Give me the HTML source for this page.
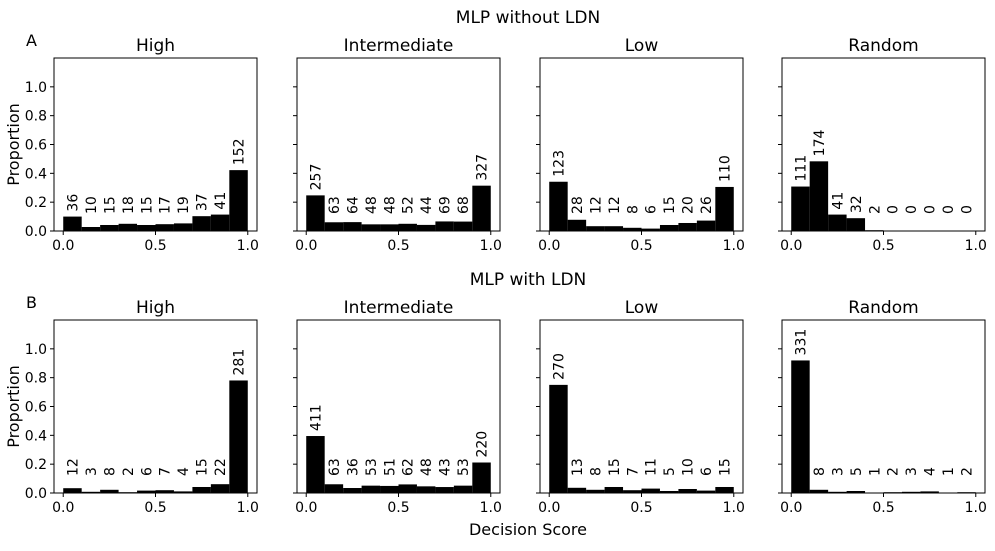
<!DOCTYPE html>
<html><head><meta charset="utf-8"><style>
body{margin:0;background:#fff;}
svg{font-family:"DejaVu Sans","Liberation Sans",sans-serif;}
</style></head><body>
<svg id="c" width="995" height="546"></svg>
<script>
const panelTitles=["High","Intermediate","Low","Random"];
const rowTitles=["MLP without LDN","MLP with LDN"];
const rowLetters=["A","B"];
const countsA=[
[36,10,15,18,15,17,19,37,41,152],
[257,63,64,48,48,52,44,69,68,327],
[123,28,12,12,8,6,15,20,26,110],
[111,174,41,32,2,0,0,0,0,0]];
const countsB=[
[12,3,8,2,6,7,4,15,22,281],
[411,63,36,53,51,62,48,43,53,220],
[270,13,8,15,7,11,5,10,6,15],
[331,8,3,5,1,2,3,4,1,2]];
const yTicks=[0,0.2,0.4,0.6,0.8,1.0];
const xTicks=[0,0.5,1.0];
const NS="http://www.w3.org/2000/svg";
const svg=document.getElementById('c');
function mk(t,a,p){const e=document.createElementNS(NS,t);for(const k in a)e.setAttribute(k,a[k]);(p||svg).appendChild(e);return e;}
const colX=[54,297,540,782], pw=203;
const rowY=[58,320], ph=173;
[countsA,countsB].forEach((data,r)=>{
  const st=mk('text',{x:528,y:rowY[r]-35,'font-size':17,'text-anchor':'middle'});
  
  
  st.textContent=rowTitles[r];
  const lt=mk('text',{x:26,y:rowY[r]-12,'font-size':16});
  
  
  lt.textContent=rowLetters[r];
  data.forEach((counts,c)=>{
    const x0=colX[c], y0=rowY[r];
    const sx=v=>x0+(v+0.05)/1.1*pw;
    const sy=v=>y0+ph-(v/1.2)*ph;
    const g=mk('g',{});
    
    
    const t=mk('text',{x:x0+pw/2,y:y0-7,'font-size':17,'text-anchor':'middle'},g);
    
    
    t.textContent=panelTitles[c];
    const total=counts.reduce((a,b)=>a+b,0);
    counts.forEach((n,i)=>{
      const h=n/total;
      const b=mk('rect',{x:sx(i*0.1),y:sy(h),width:sx(0.1)-sx(0),height:sy(0)-sy(h),fill:'#000'},g);
      
      
      const cx=sx(i*0.1+0.05);
      const by=Math.min(sy(h),sy(0)-12)-5;
      const l=mk('text',{x:0,y:0,'font-size':14,transform:`translate(${cx+5},${by}) rotate(-90)`},g);
      
      
      l.textContent=n;
    });
    const f=mk('rect',{x:x0,y:y0,width:pw,height:ph,fill:'none',stroke:'#000','stroke-width':1},g);
    
    
    xTicks.forEach(v=>{
      mk('line',{x1:sx(v),x2:sx(v),y1:y0+ph,y2:y0+ph+4,stroke:'#000'},g);
      const tl=mk('text',{x:sx(v),y:y0+ph+19,'font-size':14,'text-anchor':'middle'},g);
      
      
      tl.textContent=v.toFixed(1);
    });
    yTicks.forEach(v=>{
      mk('line',{x1:x0-4,x2:x0,y1:sy(v),y2:sy(v),stroke:'#000'},g);
      if(c===0){
        const tl=mk('text',{x:x0-7,y:sy(v)+5,'font-size':14,'text-anchor':'end'},g);
        
        
        tl.textContent=v.toFixed(1);
      }
    });
    if(c===0){
      const yl=mk('text',{x:0,y:0,'font-size':16,'text-anchor':'middle',transform:`translate(19,${y0+ph/2}) rotate(-90)`},g);
      
      
      yl.textContent='Proportion';
    }
  });
});
const xt=mk('text',{x:528,y:535,'font-size':16,'text-anchor':'middle'});


xt.textContent='Decision Score';
</script>
</body></html>
